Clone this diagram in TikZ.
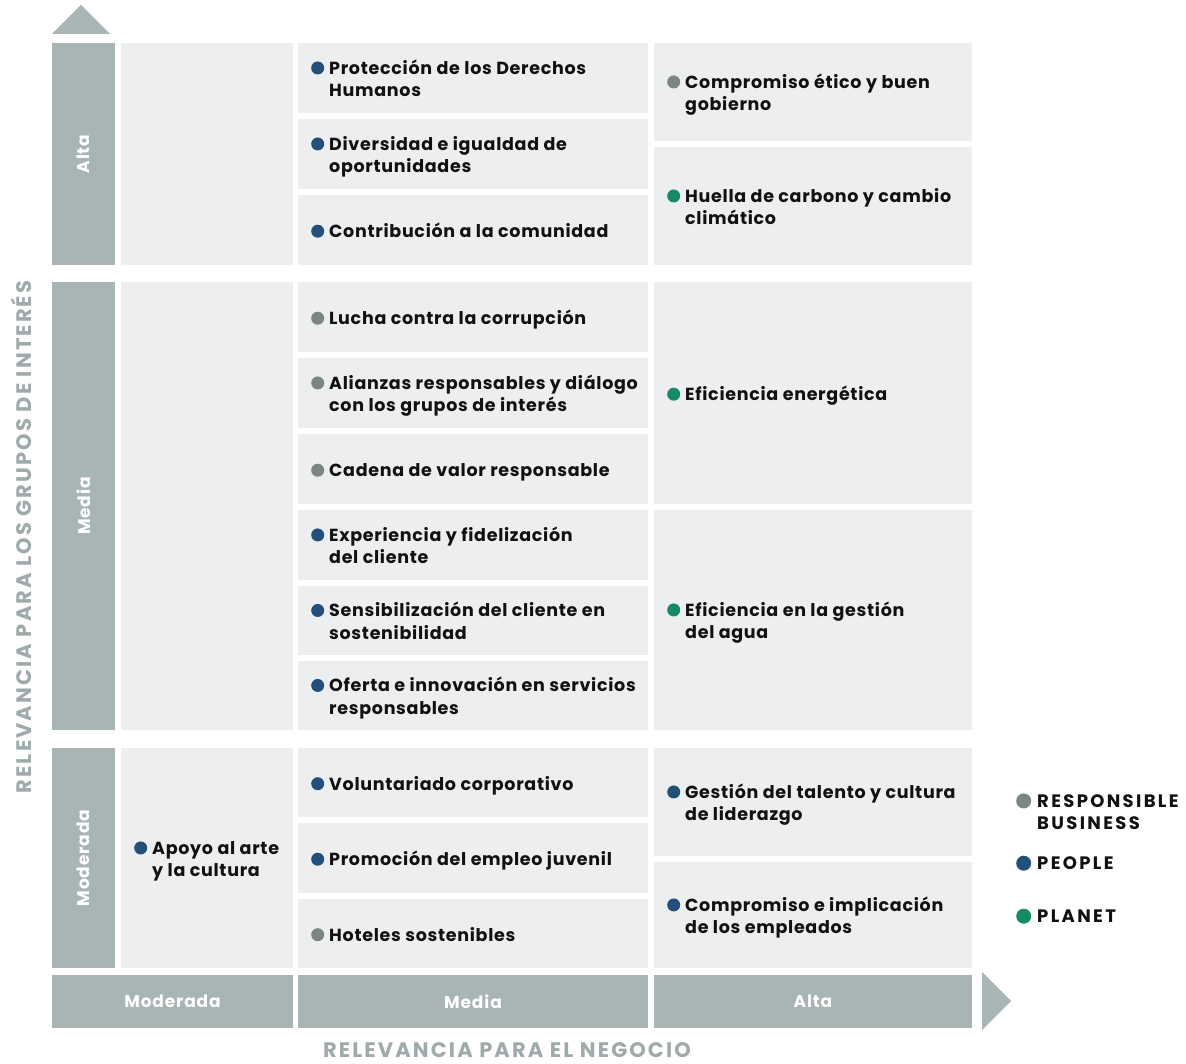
\documentclass[tikz,border=0pt]{standalone}
\usepackage{fontspec}
\setmainfont{Poppins}
\usepackage{array}
\definecolor{cellc}{HTML}{EDEEF0}
\definecolor{headc}{HTML}{A9B4B5}
\definecolor{axisc}{HTML}{9FAAAB}
\definecolor{rbc}{HTML}{7B8581}
\definecolor{ppc}{HTML}{23507A}
\definecolor{plc}{HTML}{168A66}
\definecolor{txtc}{HTML}{111111}
\newcommand{\mdot}[2][6.5]{\tikz[baseline=0pt]{\fill[#2] (#1pt,6.3pt) circle[radius=#1pt];}}
\newcommand{\itm}[3]{\fontsize{17.5}{22.5}\selectfont\addfontfeature{LetterSpace=4}\begin{tabular}{@{}p{13pt}@{\hspace{5pt}}l@{}}\mdot{#1} & #2\\ & #3\end{tabular}}
\newcommand{\itmone}[2]{\fontsize{17.5}{22.5}\selectfont\addfontfeature{LetterSpace=4}\begin{tabular}{@{}p{13pt}@{\hspace{5pt}}l@{}}\mdot{#1} & #2\end{tabular}}
\newcommand{\lgone}[2]{\fontsize{18}{22.5}\selectfont\addfontfeature{LetterSpace=13}\begin{tabular}{@{}p{15pt}@{\hspace{6pt}}l@{}}\mdot[7.5]{#1} & #2\end{tabular}}
\newcommand{\lgtwo}[3]{\fontsize{18}{22.5}\selectfont\addfontfeature{LetterSpace=13}\begin{tabular}{@{}p{15pt}@{\hspace{6pt}}l@{}}\mdot[7.5]{#1} & #2\\ & #3\end{tabular}}
\begin{document}
\begin{tikzpicture}[x=1pt,y=-1pt,
  cell/.style={fill=cellc, draw=none, inner sep=0pt, outer sep=0pt, anchor=north west},
  head/.style={fill=headc, draw=none, inner sep=0pt, outer sep=0pt, anchor=north west},
  item/.style={anchor=west, inner sep=0pt, text=txtc, font=\bfseries, yshift=-3pt},
  headtxt/.style={text=white, font=\bfseries\fontsize{17}{19}\selectfont\addfontfeature{LetterSpace=5}, inner sep=0pt},
  axistxt/.style={text=axisc, font=\bfseries\fontsize{21}{23}\selectfont\addfontfeature{LetterSpace=10}, inner sep=0pt}]
\useasboundingbox (0,0) rectangle (1186,1064);
% arrows
\fill[headc] (52,34) -- (110,34) -- (81,5) -- cycle;
\fill[headc] (982,972) -- (982,1030) -- (1011,1001) -- cycle;
% left bands
\node[head, minimum width=63pt, minimum height=222pt] (bA) at (52,43) {};
\node[head, minimum width=63pt, minimum height=448pt] (bM) at (52,282) {};
\node[head, minimum width=63pt, minimum height=220pt] (bO) at (52,748) {};
\node[headtxt, rotate=90] (lA) at (bA.center) {Alta};
\node[headtxt, rotate=90] (lM) at (bM.center) {Media};
\node[headtxt, rotate=90] (lO) at (bO.center) {Moderada};
% bottom bands
\node[head, minimum width=241pt, minimum height=53pt] (hO) at (52,975) {};
\node[head, minimum width=350pt, minimum height=53pt] (hM) at (298,975) {};
\node[head, minimum width=318pt, minimum height=53pt] (hA) at (654,975) {};
\node[headtxt] (tO) at (hO.center) {Moderada};
\node[headtxt] (tM) at (hM.center) {Media};
\node[headtxt] (tA) at (hA.center) {Alta};
% column 1
\node[cell, minimum width=172pt, minimum height=222pt] (c1A) at (121,43) {};
\node[cell, minimum width=172pt, minimum height=448pt] (c1M) at (121,282) {};
\node[cell, minimum width=172pt, minimum height=220pt] (c1O) at (121,748) {};
% column 2
\node[cell, minimum width=350pt, minimum height=70pt] (c2a) at (298,43) {};
\node[cell, minimum width=350pt, minimum height=70pt] (c2b) at (298,119) {};
\node[cell, minimum width=350pt, minimum height=70pt] (c2c) at (298,195) {};
\node[cell, minimum width=350pt, minimum height=70pt] (c2d) at (298,282) {};
\node[cell, minimum width=350pt, minimum height=70pt] (c2e) at (298,358) {};
\node[cell, minimum width=350pt, minimum height=70pt] (c2f) at (298,434) {};
\node[cell, minimum width=350pt, minimum height=70pt] (c2g) at (298,510) {};
\node[cell, minimum width=350pt, minimum height=69pt] (c2h) at (298,586) {};
\node[cell, minimum width=350pt, minimum height=69pt] (c2i) at (298,661) {};
\node[cell, minimum width=350pt, minimum height=69pt] (c2j) at (298,748) {};
\node[cell, minimum width=350pt, minimum height=70pt] (c2k) at (298,823) {};
\node[cell, minimum width=350pt, minimum height=69pt] (c2l) at (298,899) {};
% column 3
\node[cell, minimum width=318pt, minimum height=98pt] (c3a) at (654,43) {};
\node[cell, minimum width=318pt, minimum height=118pt] (c3b) at (654,147) {};
\node[cell, minimum width=318pt, minimum height=222pt] (c3c) at (654,282) {};
\node[cell, minimum width=318pt, minimum height=220pt] (c3d) at (654,510) {};
\node[cell, minimum width=318pt, minimum height=108pt] (c3e) at (654,748) {};
\node[cell, minimum width=318pt, minimum height=106pt] (c3f) at (654,862) {};
% items col 1
\node[item, xshift=13pt] (i1) at (c1O.west) {\itm{ppc}{Apoyo al arte}{y la cultura}};
% items col 2
\node[item, xshift=13pt] (i2a) at (c2a.west) {\itm{ppc}{Protección de los Derechos}{Humanos}};
\node[item, xshift=13pt] (i2b) at (c2b.west) {\itm{ppc}{Diversidad e igualdad de}{oportunidades}};
\node[item, xshift=13pt] (i2c) at (c2c.west) {\itmone{ppc}{Contribución a la comunidad}};
\node[item, xshift=13pt] (i2d) at (c2d.west) {\itmone{rbc}{Lucha contra la corrupción}};
\node[item, xshift=13pt] (i2e) at (c2e.west) {\itm{rbc}{Alianzas responsables y diálogo}{con los grupos de interés}};
\node[item, xshift=13pt] (i2f) at (c2f.west) {\itmone{rbc}{Cadena de valor responsable}};
\node[item, xshift=13pt] (i2g) at (c2g.west) {\itm{ppc}{Experiencia y fidelización}{del cliente}};
\node[item, xshift=13pt] (i2h) at (c2h.west) {\itm{ppc}{Sensibilización del cliente en}{sostenibilidad}};
\node[item, xshift=13pt] (i2i) at (c2i.west) {\itm{ppc}{Oferta e innovación en servicios}{responsables}};
\node[item, xshift=13pt] (i2j) at (c2j.west) {\itmone{ppc}{Voluntariado corporativo}};
\node[item, xshift=13pt] (i2k) at (c2k.west) {\itmone{ppc}{Promoción del empleo juvenil}};
\node[item, xshift=13pt] (i2l) at (c2l.west) {\itmone{rbc}{Hoteles sostenibles}};
% items col 3
\node[item, xshift=13pt] (i3a) at (c3a.west) {\itm{rbc}{Compromiso ético y buen}{gobierno}};
\node[item, xshift=13pt] (i3b) at (c3b.west) {\itm{plc}{Huella de carbono y cambio}{climático}};
\node[item, xshift=13pt] (i3c) at (c3c.west) {\itmone{plc}{Eficiencia energética}};
\node[item, xshift=13pt] (i3d) at (c3d.west) {\itm{plc}{Eficiencia en la gestión}{del agua}};
\node[item, xshift=13pt] (i3e) at (c3e.west) {\itm{ppc}{Gestión del talento y cultura}{de liderazgo}};
\node[item, xshift=13pt] (i3f) at (c3f.west) {\itm{ppc}{Compromiso e implicación}{de los empleados}};
% axis labels
\node[axistxt, rotate=90] (ay) at (21,537) {RELEVANCIA PARA LOS GRUPOS DE INTERÉS};
\node[axistxt, anchor=base, text depth=0pt] (ax) at (507,1057) {RELEVANCIA PARA EL NEGOCIO};
% legend
\node[item, xshift=0pt] (lg1) at (1016,811) {\lgtwo{rbc}{RESPONSIBLE}{BUSINESS}};
\node[item, xshift=0pt] (lg2) at (1016,862) {\lgone{ppc}{PEOPLE}};
\node[item, xshift=0pt] (lg3) at (1016,915) {\lgone{plc}{PLANET}};
\end{tikzpicture}
\end{document}
